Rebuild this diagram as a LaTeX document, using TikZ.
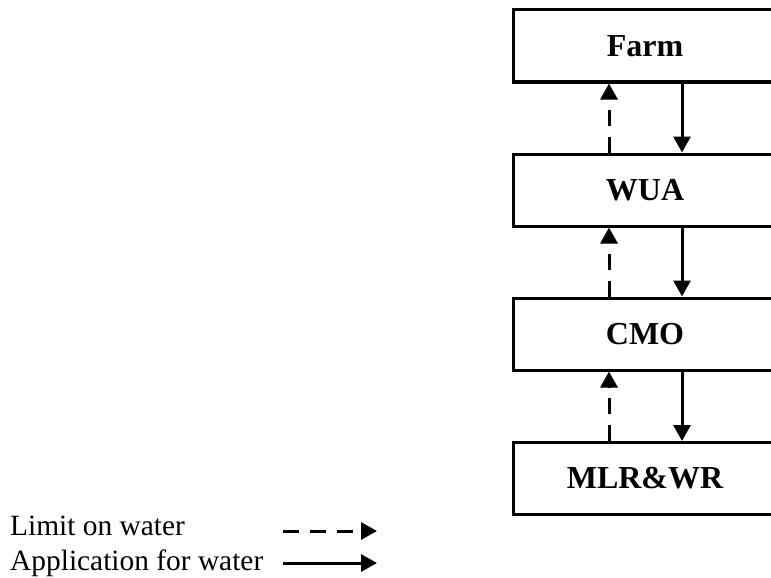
\documentclass[tikz,border=0pt]{standalone}
\usepackage{fontspec}
\setmainfont{Liberation Serif}
\usetikzlibrary{arrows.meta}
\tikzset{
  orgbox/.style={draw=black, line width=3pt, minimum width=264pt, minimum height=72pt, inner sep=0pt, font=\fontsize{32}{36}\selectfont\bfseries},
  solidarrow/.style={line width=3pt, -{Triangle[length=16pt,width=17pt]}},
  dasharrow/.style={line width=3pt, dash pattern=on 16pt off 11pt, -{Triangle[length=16pt,width=17pt]}},
  legtext/.style={anchor=base west, inner sep=0pt, font=\fontsize{29.4}{36}\selectfont}
}
\begin{document}
\begin{tikzpicture}[x=1pt,y=-1pt]
\useasboundingbox (0,0) rectangle (771,578);
\node[orgbox] (farm) at (645,46) {Farm};
\node[orgbox] (wua) at (645,190) {WUA};
\node[orgbox] (cmo) at (645,334) {CMO};
\node[orgbox] (mlr) at (645,478.5) {MLR\&WR};
\coordinate (dx) at (609,0);
\coordinate (sx) at (682,0);
\draw[dasharrow] (wua.north -| dx) -- (farm.south -| dx);
\draw[dasharrow] (cmo.north -| dx) -- (wua.south -| dx);
\draw[dasharrow] (mlr.north -| dx) -- (cmo.south -| dx);
\draw[solidarrow] (farm.south -| sx) -- (wua.north -| sx);
\draw[solidarrow] (wua.south -| sx) -- (cmo.north -| sx);
\draw[solidarrow] (cmo.south -| sx) -- (mlr.north -| sx);
\node[legtext] (lim) at (10,535) {Limit on water};
\node[legtext] (app) at (10,570) {Application for water};
\coordinate (l1s) at (283,531);
\coordinate (l1e) at (377,531);
\coordinate (l2s) at (283,563);
\coordinate (l2e) at (377,563);
\draw[dasharrow] (l1s) -- (l1e);
\draw[solidarrow] (l2s) -- (l2e);
\end{tikzpicture}
\end{document}
